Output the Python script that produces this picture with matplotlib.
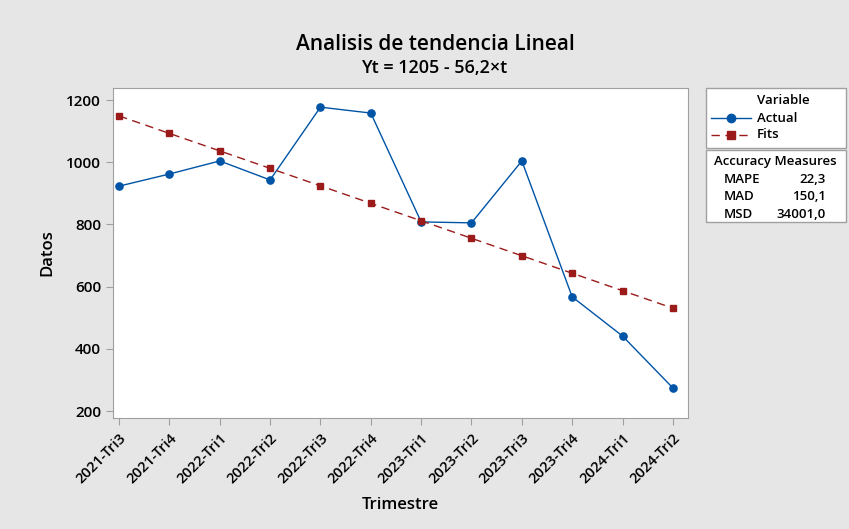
import matplotlib
matplotlib.use("Agg")
import matplotlib.pyplot as plt
from matplotlib.lines import Line2D
from matplotlib.patches import Rectangle

plt.rcParams['font.family'] = ['Open Sans', 'DejaVu Sans']

categories = ["2021-Tri3", "2021-Tri4", "2022-Tri1", "2022-Tri2", "2022-Tri3", "2022-Tri4",
              "2023-Tri1", "2023-Tri2", "2023-Tri3", "2023-Tri4", "2024-Tri1", "2024-Tri2"]
actual = [923, 962, 1004, 943, 1177, 1158, 808, 805, 1004, 567, 441, 274]
fits = [1148.8, 1092.6, 1036.4, 980.2, 924.0, 867.8, 811.6, 755.4, 699.2, 643.0, 586.8, 530.6]
yticks = [200, 400, 600, 800, 1000, 1200]

W, H = 849, 529
bg = "#e6e6e6"
fig = plt.figure(figsize=(W/100, H/100), dpi=100, facecolor=bg)
ax = fig.add_axes([113/W, 1-418/H, (688-113)/W, (418-88)/H])
ax.set_facecolor("white")

x = list(range(len(categories)))
blue = "#0054a6"
red = "#9b1b1b"
ax.plot(x, actual, color=blue, lw=1.0, marker='o', ms=5.2, zorder=3)
ax.plot(x, fits, color=red, lw=1.0, ls=(0, (6, 4)), marker='s', ms=4.8, zorder=3)

ax.set_xlim(-0.12, 11.3)
ax.set_ylim(177.5, 1238.6)
ax.set_yticks(yticks)
ax.set_yticklabels([str(v) for v in yticks], fontsize=11, fontweight='semibold')
ax.set_xticks(x)
ax.set_xticklabels(categories, rotation=45, ha='right', rotation_mode='anchor', fontsize=10.5,
                   fontweight='semibold')
for s in ax.spines.values():
    s.set_color("#a0a0a0")
ax.tick_params(color="#a0a0a0", length=5)
ax.tick_params(axis='x', pad=4)

ax.set_ylabel("Datos", fontsize=12, fontweight='semibold', labelpad=8)
ax.set_xlabel("Trimestre", fontsize=12, fontweight='semibold', labelpad=8)

fig.text(435/W, 1-45/H, "Analisis de tendencia Lineal", ha='center', va='center',
         fontsize=15, fontweight='semibold')
fig.text(434/W, 1-68/H, "Yt = 1205 - 56,2×t", ha='center', va='center',
         fontsize=13, fontweight='semibold')

# Legend box
fig.patches.append(Rectangle((706/W, 1-148/H), 140/W, 60/H, transform=fig.transFigure,
                             facecolor='white', edgecolor='#a0a0a0', lw=1))
fig.text(783/W, 1-101/H, "Variable", ha='center', va='center', fontsize=9.5, fontweight='semibold')
fig.lines.append(Line2D([711/W, 751/W], [1-118/H, 1-118/H], transform=fig.transFigure,
                        color=blue, lw=1))
fig.lines.append(Line2D([731/W], [1-118/H], transform=fig.transFigure, color=blue,
                        marker='o', ms=6))
fig.text(757/W, 1-118/H, "Actual", ha='left', va='center', fontsize=9.5, fontweight='semibold')
fig.lines.append(Line2D([711/W, 751/W], [1-135/H, 1-135/H], transform=fig.transFigure,
                        color=red, lw=1, ls=(0, (6, 4))))
fig.lines.append(Line2D([731/W], [1-135/H], transform=fig.transFigure, color=red,
                        marker='s', ms=5.5))
fig.text(757/W, 1-134/H, "Fits", ha='left', va='center', fontsize=9.5, fontweight='semibold')

# Accuracy box
fig.patches.append(Rectangle((706/W, 1-222/H), 140/W, 72/H, transform=fig.transFigure,
                             facecolor='white', edgecolor='#a0a0a0', lw=1))
fig.text(775/W, 1-162/H, "Accuracy Measures", ha='center', va='center', fontsize=9.5,
         fontweight='semibold')
labels = ["MAPE", "MAD", "MSD"]
vals = ["22,3", "150,1", "34001,0"]
for i, (l, v) in enumerate(zip(labels, vals)):
    yy = 1 - (180 + i*17)/H
    fig.text(724/W, yy, l, ha='left', va='center', fontsize=9.5, fontweight='semibold')
    fig.text(826/W, yy, v, ha='right', va='center', fontsize=9.5, fontweight='semibold')

fig.savefig("out.png", dpi=100, facecolor=bg)
